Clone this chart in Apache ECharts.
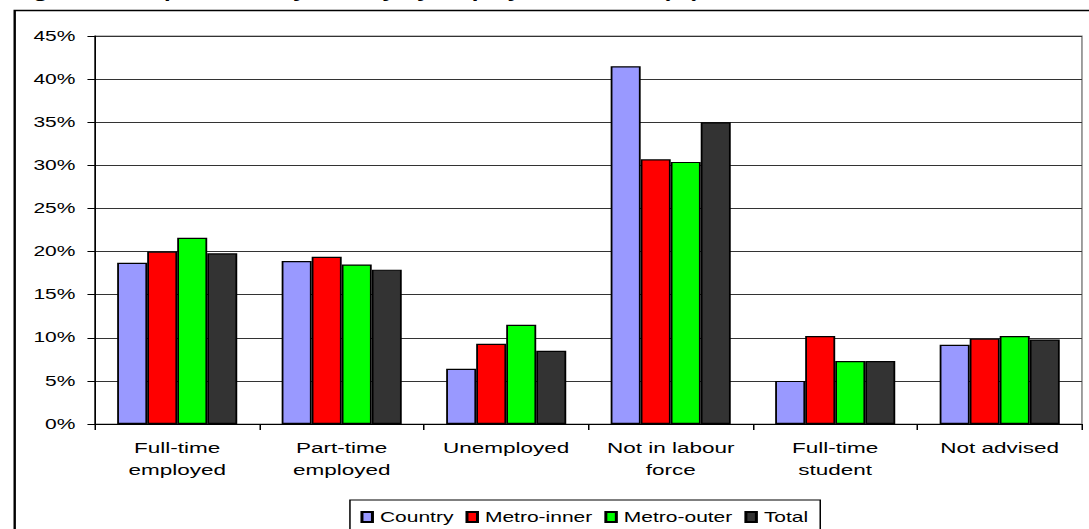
<!DOCTYPE html>
<html>
<head>
<meta charset="utf-8">
<script src="https://cdn.jsdelivr.net/npm/echarts@6/dist/echarts.min.js"></script>
<style>
html,body{margin:0;padding:0;background:#fff;overflow:hidden;width:1089px;height:529px;}
#wrap{width:1089px;height:529px;overflow:hidden;position:relative;}
#chart{width:726px;height:529px;transform:scaleX(1.5);transform-origin:0 0;position:absolute;left:0;top:0;}
</style>
</head>
<body>
<div id="wrap"><div id="chart"></div></div>
<script>
var categories = ['Full-time\nemployed', 'Part-time\nemployed', 'Unemployed', 'Not in labour\nforce', 'Full-time\nstudent', 'Not advised'];
var seriesNames = ['Country', 'Metro-inner', 'Metro-outer', 'Total'];
var country    = [18.7, 18.9, 6.4, 41.5, 5.0, 9.2];
var metroInner = [20.0, 19.4, 9.3, 30.7, 10.2, 9.9];
var metroOuter = [21.6, 18.5, 11.5, 30.4, 7.3, 10.2];
var total      = [19.8, 17.9, 8.5, 35.0, 7.3, 9.8];
var yTicks = [0, 5, 10, 15, 20, 25, 30, 35, 40, 45];
var colors = ['#9999FF', '#FF0000', '#00FF00', '#333333'];
var titleText = 'Figure 5: Respondents by locality by employment status (%)';

var values = [country, metroInner, metroOuter, total];
var chart = echarts.init(document.getElementById('chart'), null, {renderer: 'svg'});
var font = 'Liberation Sans, Arial, sans-serif';
var option = {
  animation: false,
  backgroundColor: '#fff',
  title: {
    text: titleText, left: 8, top: -15, padding: 0,
    textStyle: {fontFamily: font, fontSize: 16, fontWeight: 'bold', color: '#000'}
  },
  graphic: [{
    type: 'rect', left: 7.3, top: 8, z: -1, silent: true,
    shape: {width: 760, height: 560},
    style: {fill: 'none', stroke: '#000', lineWidth: 1.6}
  }],
  grid: {left: 63.3, right: 4.7, top: 36, bottom: 105, show: true, borderColor: '#808080', borderWidth: 1, backgroundColor: 'transparent'},
  legend: {
    data: seriesNames, left: 233.3, top: 500,
    padding: [10, 8, 20, 7],
    borderColor: '#000', borderWidth: 1,
    itemWidth: 7, itemHeight: 10, itemGap: 8,
    icon: 'rect',
    textStyle: {fontFamily: font, fontSize: 14, color: '#000'}
  },
  xAxis: {
    type: 'category', data: categories,
    axisLine: {lineStyle: {color: '#000', width: 1}},
    axisTick: {show: true, length: 6, alignWithLabel: false, lineStyle: {color: '#000'}},
    axisLabel: {fontFamily: font, fontSize: 15, color: '#000', margin: 13, lineHeight: 22, interval: 0}
  },
  yAxis: {
    type: 'value', min: 0, max: 45, interval: 5,
    axisLine: {show: true, lineStyle: {color: '#000', width: 1}},
    axisTick: {show: true, length: 5, lineStyle: {color: '#000'}},
    axisLabel: {fontFamily: font, fontSize: 14, color: '#000', margin: 13, formatter: function (v) { return yTicks.indexOf(v) >= 0 ? v + '%' : ''; }},
    splitLine: {lineStyle: {color: '#333', width: 1}}
  },
  series: seriesNames.map(function (n, i) {
    return {
      name: n, type: 'bar', data: values[i],
      barGap: '0%', barCategoryGap: '27%',
      itemStyle: {color: colors[i], borderColor: '#000', borderWidth: 1.2}
    };
  })
};
chart.setOption(option);
</script>
</body>
</html>
